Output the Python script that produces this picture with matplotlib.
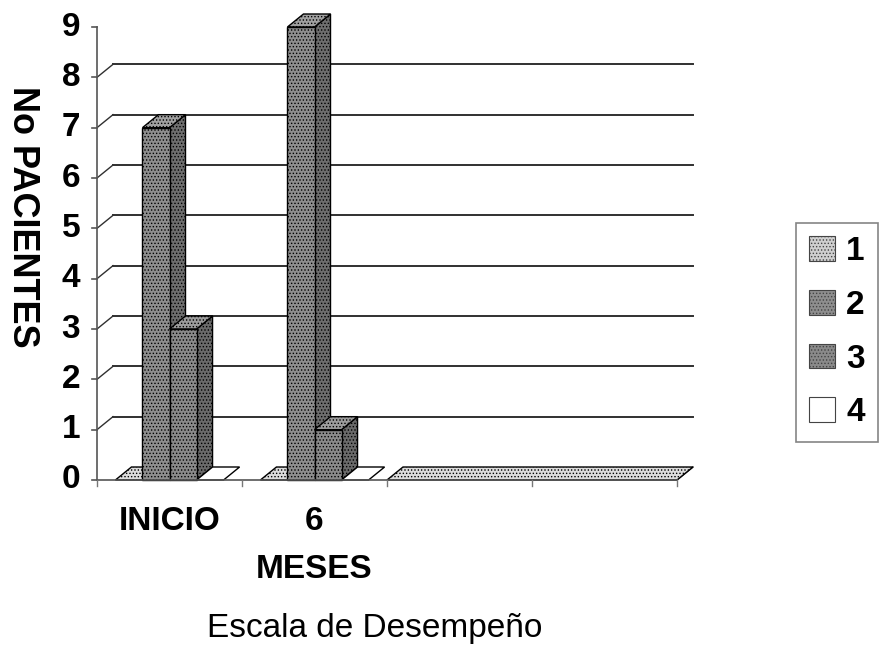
import matplotlib
matplotlib.use('Agg')
import matplotlib.pyplot as plt
from matplotlib.patches import Polygon, Patch

plt.rcParams['font.family'] = ['Liberation Sans', 'DejaVu Sans']
plt.rcParams['hatch.linewidth'] = 0.6

# category slots on the x axis (the last two are empty)
categories = ['INICIO', '6\nMESES', '', '']
series_names = ['1', '2', '3', '4']
serie_1 = [0, 0]
serie_2 = [7, 9]
serie_3 = [3, 1]
serie_4 = [0, 0]
series = [serie_1, serie_2, serie_3, serie_4]
y_ticks = list(range(0, 10))

# face colours per series: front, side, top
faces = [
    ('#cfcfcf', '#a8a8a8', '#dcdcdc'),
    ('#8e8e8e', '#6e6e6e', '#a0a0a0'),
    ('#8a8a8a', '#6a6a6a', '#9c9c9c'),
    ('#ffffff', '#ffffff', '#ffffff'),
]
hatches = ['.....', '.....', '.....', None]

W, H = 882, 652
fig = plt.figure(figsize=(W / 100, H / 100), dpi=100)
ax = fig.add_axes([97 / W, (H - 480) / H, 580 / W, 453 / H])
n_slots = len(categories)
ax.set_xlim(0, n_slots)
ax.set_ylim(0, 9)
ax.axis('off')

DX = 16 / 145.0   # depth shift in category units
DY = 13 / 50.33   # depth shift in value units
bw = 0.1865
gap = (1 - 4 * bw) / 2


def poly(pts, fc, hatch=None, z=2):
    p = Polygon(pts, closed=True, facecolor=fc, edgecolor='black',
                linewidth=1.0, hatch=hatch, clip_on=False, zorder=z,
                joinstyle='miter')
    ax.add_patch(p)


# back wall gridlines and side wall slashes
for t in y_ticks[1:-1]:
    ax.plot([DX, n_slots + DX], [t + DY, t + DY], color='#303030', lw=1.4,
            clip_on=False, zorder=1)
for t in y_ticks[1:-1]:
    ax.plot([0, DX], [t, t + DY], color='#303030', lw=1.0, clip_on=False, zorder=1)
ax.plot([n_slots, n_slots + DX], [0, DY], color='#303030', lw=1.0, clip_on=False, zorder=1)

# front axes
ax.plot([0, 0], [0, 9], color='#555555', lw=1.2, clip_on=False, zorder=5)
ax.plot([0, n_slots], [0, 0], color='#555555', lw=1.2, clip_on=False, zorder=5)
for t in y_ticks:
    ax.plot([-0.035, 0], [t, t], color='#555555', lw=1.2, clip_on=False, zorder=5)
    ax.text(-0.115, t, str(t), ha='right', va='center', fontsize=24,
            fontweight='bold', clip_on=False)
for i in range(n_slots + 1):
    ax.plot([i, i], [0, -0.12], color='#777777', lw=1.0, clip_on=False, zorder=5)

# bars, drawn left to right so nearer faces cover the ones behind
for c in range(len(serie_2)):
    for s, vals in enumerate(series):
        v = vals[c]
        x0 = c + gap + s * bw
        x1 = x0 + bw
        front, side, top = faces[s]
        if v > 0:
            poly([(x1, 0), (x1 + DX, DY), (x1 + DX, v + DY), (x1, v)], side, hatches[s])
        poly([(x0, v), (x1, v), (x1 + DX, v + DY), (x0 + DX, v + DY)], top, hatches[s])
        if v > 0:
            poly([(x0, 0), (x1, 0), (x1, v), (x0, v)], front, hatches[s])

# flat floor across the empty slots
f0 = len(serie_2)
poly([(f0, 0), (n_slots, 0), (n_slots + DX, DY), (f0 + DX, DY)], faces[0][2], hatches[0])

# category labels
for i, lab in enumerate(categories):
    if lab:
        ax.text(i + 0.5, -0.52, lab, ha='center', va='top', fontsize=24,
                fontweight='bold', linespacing=1.7, clip_on=False)

fig.text(375 / W, 1 - 628 / H, 'Escala de Desempeño', ha='center', va='center', fontsize=24)
fig.text(22 / W, 1 - 217 / H, 'No PACIENTES', ha='center', va='center', fontsize=26,
         rotation=270, fontweight='bold')

handles = [Patch(facecolor=faces[i][0], edgecolor='#444444', hatch=hatches[i], lw=0.8)
           for i in range(4)]
leg = fig.legend(handles, series_names, loc='upper left', bbox_to_anchor=(796 / W, 1 - 223 / H),
                 frameon=True, fancybox=False, prop={'size': 24, 'weight': 'bold'},
                 handlelength=0.76, handleheight=0.76, labelspacing=0.68,
                 handletextpad=0.35, borderpad=0.4, borderaxespad=0)
leg.get_frame().set_edgecolor('#666666')
leg.get_frame().set_linewidth(1.2)

fig.savefig('out.png', dpi=100)
